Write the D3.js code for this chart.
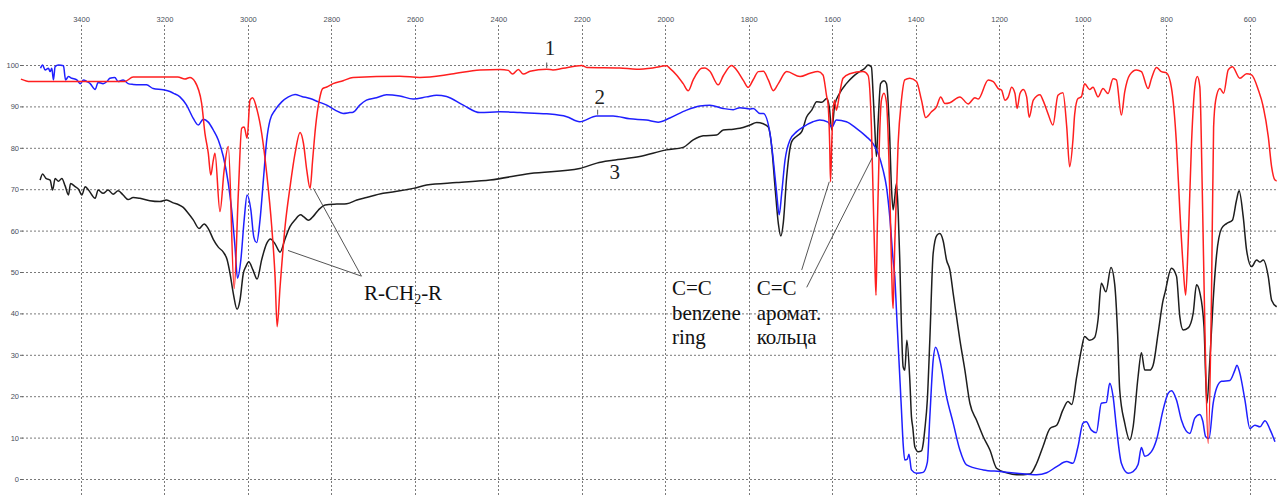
<!DOCTYPE html>
<html>
<head>
<meta charset="utf-8">
<script src="https://cdn.jsdelivr.net/npm/d3@7"></script>
<style>
  body { margin: 0; background: #fff; }
  svg { display: block; }
</style>
</head>
<body>
<svg class="chart"></svg>
<script>
// wavenumber (cm-1) / transmittance (%)
const xTicks = [3400, 3200, 3000, 2800, 2600, 2400, 2200, 2000, 1800, 1600, 1400, 1200, 1000, 800, 600];
const yTicks = [0, 10, 20, 30, 40, 50, 60, 70, 80, 90, 100];

const spectrum1 = [[3544,96.6],[3522,96.0],[3354,96.0],[3295,96.0],[3275,97.1],[3168,97.1],[3151,96.6],[3139,97.0],[3127,96.0],[3111,90.8],[3103,83.5],[3095,78.7],[3089,73.4],[3083,77],[3079,78.7],[3067,64.6],[3057,74.6],[3047,80.3],[3033,46],[3023,69],[3015,84.7],[3009,85],[3002,82.3],[2995,91.5],[2989,92.1],[2978,89.1],[2967,83.5],[2955,73.8],[2943,61],[2935,48.9],[2930,36.8],[2923,46.4],[2911,61],[2899,70.6],[2887,78.7],[2875,83.7],[2867,81.1],[2859,74.6],[2851,70.2],[2845,77],[2838,85],[2829,91.5],[2821,94.3],[2811,94.7],[2796,95.5],[2772,96.2],[2748,97],[2636,97.3],[2588,97],[2512,97.8],[2444,98.8],[2396,98.9],[2376,98.7],[2366,97.8],[2352,98.9],[2340,97.8],[2324,98.5],[2284,99],[2269,98.8],[2245,99.2],[2200,99.9],[2188,99.4],[2109,99.3],[2069,99],[2030,99.3],[1997,99.8],[1989,99.2],[1973,97.6],[1957,95.5],[1945,93.8],[1933,96.4],[1913,99.2],[1905,99.3],[1893,98.5],[1873,95.2],[1861,97.4],[1841,99.9],[1829,98.8],[1813,96.3],[1801,94.6],[1789,96.5],[1777,98.4],[1765,98.5],[1753,96.4],[1741,93.8],[1729,95.5],[1709,98.4],[1677,97.2],[1653,98.0],[1634,98.4],[1622,97.6],[1613,92.3],[1610,90.7],[1606,81],[1604,71.8],[1601,81],[1598,89.1],[1594,91.5],[1590,89.1],[1582,93.2],[1574,96.8],[1558,97.9],[1526,98.4],[1514,97.5],[1506,85],[1502,69],[1498,53.1],[1495,44.4],[1492,60],[1487,81],[1482,91.5],[1476,93.2],[1470,91],[1464,77],[1460,61],[1456,44.8],[1454,41.2],[1450,56.9],[1442,81],[1434,91.5],[1426,96.4],[1414,96.8],[1398,96.0],[1386,91.5],[1376,87.3],[1362,88.7],[1350,89.9],[1340,92.3],[1330,90.7],[1318,90.9],[1294,92.3],[1274,90.6],[1258,92.1],[1250,91.8],[1226,96.4],[1214,96.0],[1202,94.3],[1194,93.9],[1186,91.5],[1178,92.3],[1170,94.6],[1162,93.1],[1157,89.5],[1150,93.1],[1142,94.1],[1134,92.3],[1128,87.4],[1118,91.5],[1102,92.8],[1095,91.5],[1083,88.3],[1071,85.5],[1059,92.7],[1047,93.3],[1038,85.1],[1031,75.4],[1023,82],[1019,88],[1011,91.9],[1003,92.3],[995,95.5],[983,94.1],[975,94.6],[963,92.3],[951,94.3],[939,93.1],[927,96.7],[919,96.4],[907,87.9],[899,93.5],[887,97.6],[871,98.8],[859,98.4],[843,94.3],[835,96.7],[823,99.4],[811,98.4],[799,98.1],[787,94.5],[775,81],[767,65],[759,51.3],[753,44.4],[747,56.9],[739,81],[731,94.7],[725,97.2],[719,94.7],[713,69],[707,36.8],[699,8.6],[691,44.8],[686,85],[681,91.5],[671,94.3],[662,93.2],[651,98.8],[641,99.6],[623,96.8],[607,97.9],[595,97.6],[579,94],[567,89.9],[555,82.7],[547,75.4],[539,72.2],[535,72]];

const spectrum2 = [[3497,99.2],[3492,100],[3486,98.8],[3478,99.2],[3474,98.4],[3470,99.2],[3466,96.4],[3462,99.6],[3454,100],[3442,99.8],[3437,96.4],[3430,97.2],[3422,96.8],[3410,96.4],[3402,95.5],[3394,96.4],[3386,96.0],[3378,95.5],[3366,94.1],[3359,95.8],[3347,95.5],[3338,96.0],[3331,96.8],[3319,97.0],[3311,96.0],[3299,96.4],[3287,95.5],[3275,95.3],[3259,95.2],[3243,95.2],[3227,94.3],[3203,94.0],[3187,93.6],[3179,93.2],[3163,92.3],[3147,90.3],[3131,87.1],[3119,85.5],[3107,86.9],[3095,86.2],[3083,84.3],[3071,81.9],[3059,77.9],[3047,71.4],[3039,65],[3031,56.1],[3025,48.5],[3017,52.9],[3009,62.6],[3002,68.6],[2993,65],[2986,58.5],[2979,57.1],[2971,62.6],[2963,72.2],[2955,81.9],[2947,86.7],[2935,89.1],[2919,91.1],[2903,92.3],[2887,92.9],[2871,92.4],[2851,91.9],[2831,91.1],[2811,90.3],[2791,89.1],[2772,88.3],[2756,88.5],[2748,88.6],[2732,90.3],[2716,91.5],[2692,92.1],[2668,92.8],[2636,92.5],[2604,91.8],[2572,92.3],[2548,92.7],[2524,92.4],[2484,90.3],[2444,88.5],[2396,88.7],[2348,88.5],[2284,88.2],[2236,87.5],[2205,86.3],[2164,87.7],[2125,87.7],[2085,87.0],[2045,86.7],[2017,86.2],[1989,87.2],[1949,89.1],[1917,90.1],[1893,90.3],[1861,89.5],[1837,89.2],[1821,89.7],[1797,89.4],[1789,89.5],[1773,88.3],[1765,88.3],[1749,83.5],[1741,77],[1733,69],[1727,63.8],[1721,69],[1713,77],[1701,81.9],[1685,83.9],[1670,85],[1646,86.3],[1630,86.7],[1610,86.2],[1601,85],[1590,86.7],[1566,86.3],[1542,84.7],[1518,82.7],[1502,81],[1490,78.7],[1478,74.6],[1470,70.6],[1462,63.3],[1454,52.9],[1450,48.9],[1446,40.8],[1440,28.7],[1434,16.7],[1430,8.6],[1426,4.6],[1420,4.8],[1416,6.0],[1410,2.2],[1398,1.4],[1382,1.6],[1372,4],[1366,15],[1358,28.7],[1352,31.8],[1342,28.7],[1326,19.9],[1310,13.5],[1294,7],[1278,3.4],[1238,2.2],[1198,1.8],[1158,1.4],[1110,1.0],[1086,1.5],[1062,3],[1038,4.2],[1023,3.8],[1011,7.8],[999,13.5],[991,13.8],[979,11.8],[967,11.2],[955,18.3],[943,18.5],[935,23.1],[927,20],[919,12.6],[907,3.8],[891,1.4],[879,1.8],[867,3.5],[859,7.6],[851,5.5],[835,6.6],[823,9.4],[807,16.7],[795,20.7],[787,21.3],[775,19.1],[763,14.2],[743,11],[731,14.7],[719,15.6],[712,14],[705,10.2],[697,9.8],[687,18.3],[679,21.9],[667,23.6],[647,23.8],[635,26.3],[630,27.5],[623,25.5],[611,19.1],[599,12.2],[587,13],[575,12.6],[563,14.1],[551,12],[539,9]];

const spectrum3 = [[3498,72.2],[3492,73.7],[3484,72.6],[3474,72.2],[3468,69.8],[3462,72.6],[3454,71.9],[3446,72.6],[3438,70.8],[3430,68.6],[3425,71.4],[3414,70.6],[3406,70.0],[3398,68.6],[3390,70.6],[3382,69.8],[3366,67.8],[3359,69.8],[3347,69.0],[3335,69.8],[3323,68.8],[3311,69.6],[3299,68.6],[3287,67.5],[3275,68.0],[3259,67.8],[3235,67.2],[3211,67.0],[3195,67.4],[3179,66.7],[3167,66.3],[3155,65.6],[3143,64.2],[3131,62.6],[3117,60.5],[3105,61.6],[3095,60.5],[3083,57.9],[3071,56.0],[3059,54.8],[3050,53],[3043,49.7],[3035,44.8],[3026,41.0],[3019,43.2],[3011,49.7],[3005,51.3],[2998,52.5],[2988,50.5],[2978,48.3],[2967,53],[2955,56.9],[2946,58.0],[2935,56.8],[2923,54.8],[2911,58],[2899,61],[2887,62.6],[2874,63.8],[2866,63.3],[2855,62.5],[2843,63.5],[2831,65],[2815,66.2],[2787,66.4],[2763,66.5],[2739,67.4],[2716,68],[2676,69],[2636,69.6],[2604,70.2],[2572,71],[2500,71.6],[2420,72.2],[2324,73.8],[2205,75],[2164,76.3],[2125,77],[2061,77.9],[1997,79.5],[1957,80.1],[1933,81.9],[1909,82.9],[1877,83.1],[1861,84.3],[1837,84.5],[1821,84.7],[1797,85.5],[1781,86.1],[1765,85.8],[1753,85.0],[1745,80.3],[1737,70.6],[1729,61.7],[1723,58.7],[1717,62],[1709,73],[1697,81.5],[1685,82.8],[1673,83.9],[1661,87.5],[1649,89.1],[1637,91.1],[1625,91.0],[1613,91.9],[1607,89.9],[1601,84.3],[1594,90.3],[1582,93.2],[1566,95.5],[1550,97.2],[1534,98.4],[1522,99.2],[1514,100],[1506,99.5],[1502,93.2],[1498,85],[1494,77.9],[1490,86],[1484,95.5],[1476,96.2],[1470,95.5],[1463,85],[1458,70.6],[1454,65],[1450,68],[1446,71.4],[1442,65],[1438,52.9],[1434,36.8],[1430,27.1],[1426,26.3],[1421,33.5],[1414,24],[1410,15],[1407,12.6],[1402,7.8],[1394,6.6],[1386,6.8],[1382,8.5],[1378,12],[1372,19.1],[1366,33.6],[1358,54.5],[1349,58.9],[1342,59.3],[1334,57.5],[1326,52.9],[1318,50.5],[1310,44.8],[1302,39.2],[1294,33.6],[1282,26.3],[1270,18.3],[1254,14.2],[1238,10.2],[1222,7],[1206,2.6],[1182,1.5],[1158,1.0],[1126,1.2],[1110,3.8],[1095,7.8],[1078,12.2],[1062,13],[1047,16.7],[1035,18.7],[1026,18],[1014,24.7],[1003,31.2],[995,34.4],[983,33.5],[971,34.2],[963,38.4],[955,47.3],[944,45.2],[932,51.1],[923,47],[916,35],[911,21.5],[899,13.5],[887,9.4],[879,12.5],[867,24.7],[859,30.5],[851,26.3],[839,26.3],[831,27.5],[819,35.2],[807,43.2],[803,44.8],[787,50.9],[775,49],[767,39.2],[759,36],[747,36.5],[735,40],[727,46.9],[719,45],[709,36.8],[705,24.7],[702,18.3],[695,28.7],[687,43.2],[679,54],[667,60.5],[655,61.7],[641,62.5],[631,67.4],[625,69.6],[615,63.3],[607,55.3],[595,51.3],[583,52.9],[575,52.4],[567,52.9],[555,48.9],[547,43.2],[535,41.6]];

// curve number labels: [text, wavenumber, %T]
const curveLabels = [["1", 2276, 102.4], ["2", 2157, 90.6], ["3", 2121, 72.4]];
// little ticks from label to curve
const labelTicks = [[2284, 100.6, 99.3], [2162, 89.2, 88.0]];
// leader lines: [wn1, t1, wn2, t2]
const leaders = [
  [2728, 49.0, 2904, 55.2],
  [2728, 49.0, 2843, 70.2],
  [1673, 50.5, 1607, 71.8],
  [1661, 46.3, 1504, 77.6]
];

const width = 1277, height = 495;
const svg = d3.select(".chart").attr("width", width).attr("height", height);

let x = d3.scaleLinear().domain([3400, 600]).range([81, 1249.5]);
let y = d3.scaleLinear().domain([0, 100]).range([479, 65]);

// grid
svg.append("g").selectAll("line").data(yTicks).enter().append("line")
  .attr("x1", 22).attr("x2", width)
  .attr("y1", d => y(d) + 0.5).attr("y2", d => y(d) + 0.5)
  .attr("stroke", "#7a7a7a").attr("stroke-width", 1).attr("stroke-dasharray", "2,2");
svg.append("g").selectAll("line").data(xTicks).enter().append("line")
  .attr("x1", d => Math.round(x(d)) + 0.5).attr("x2", d => Math.round(x(d)) + 0.5)
  .attr("y1", 25).attr("y2", height)
  .attr("stroke", "#7a7a7a").attr("stroke-width", 1).attr("stroke-dasharray", "2,2");

// axes
let xAxis = svg.append("g").attr("transform", "translate(0,22)")
  .call(d3.axisTop(x).tickValues(xTicks).tickSize(0).tickPadding(0).tickFormat(d3.format("d")));
xAxis.select(".domain").remove();
xAxis.selectAll("text").attr("font-family", "Liberation Sans, Arial, sans-serif")
  .attr("font-size", 7.5).attr("fill", "#4a4f5a");

let yAxis = svg.append("g").attr("transform", "translate(23,0)")
  .call(d3.axisLeft(y).tickValues(yTicks).tickSize(3).tickPadding(1));
yAxis.select(".domain").remove();
yAxis.selectAll("line").attr("stroke", "#666");
yAxis.selectAll("text").attr("font-family", "Liberation Sans, Arial, sans-serif")
  .attr("font-size", 7.5).attr("fill", "#4a4f5a");

// spectra
let line = d3.line().x(d => x(d[0])).y(d => y(d[1])).curve(d3.curveMonotoneX);
let series = [[spectrum3, "#1e1e1e"], [spectrum2, "#1f1fff"], [spectrum1, "#ff1f1f"]];
series.forEach(function(s) {
  svg.append("path").datum(s[0])
    .attr("d", line)
    .attr("fill", "none")
    .attr("stroke", s[1])
    .attr("stroke-width", 1.5)
    .attr("stroke-linejoin", "round");
});

// annotations
svg.append("g").selectAll("line").data(leaders).enter().append("line")
  .attr("x1", d => x(d[0])).attr("y1", d => y(d[1]))
  .attr("x2", d => x(d[2])).attr("y2", d => y(d[3]))
  .attr("stroke", "#555").attr("stroke-width", 1);

svg.append("g").selectAll("line").data(labelTicks).enter().append("line")
  .attr("x1", d => x(d[0])).attr("x2", d => x(d[0]))
  .attr("y1", d => y(d[1])).attr("y2", d => y(d[2]))
  .attr("stroke", "#555").attr("stroke-width", 1);

let serif = "Liberation Serif, Times New Roman, serif";
svg.append("g").selectAll("text").data(curveLabels).enter().append("text")
  .attr("x", d => x(d[1])).attr("y", d => y(d[2]))
  .attr("text-anchor", "middle")
  .attr("font-family", serif).attr("font-size", 21).attr("fill", "#222")
  .text(d => d[0]);

let rch = svg.append("text")
  .attr("x", x(2722)).attr("y", y(43.2))
  .attr("font-family", serif).attr("font-size", 21).attr("fill", "#111");
rch.append("tspan").text("R-CH");
rch.append("tspan").attr("font-size", 14).attr("dy", 4).text("2");
rch.append("tspan").attr("dy", -4).text("-R");

let blocks = [
  [1984, ["C=C", "benzene", "ring"]],
  [1781, ["C=C", "аромат.", "кольца"]]
];
blocks.forEach(function(b) {
  let t = svg.append("text")
    .attr("x", x(b[0])).attr("y", y(44.4))
    .attr("font-family", serif).attr("font-size", 21).attr("fill", "#111");
  b[1].forEach(function(s, i) {
    t.append("tspan").attr("x", x(b[0])).attr("dy", i === 0 ? 0 : 24.5).text(s);
  });
});
</script>
</body>
</html>
